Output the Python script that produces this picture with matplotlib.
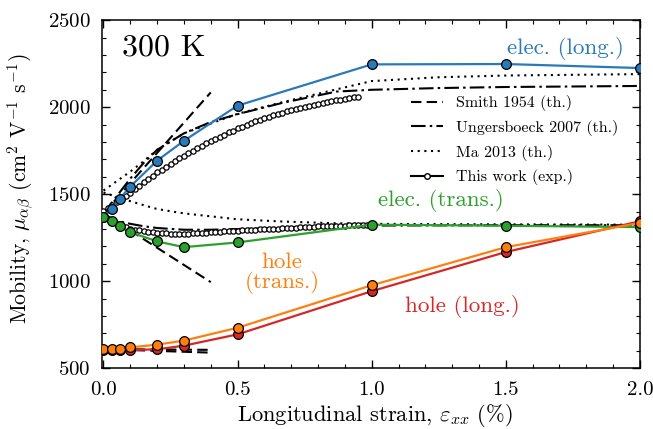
import numpy as np
import matplotlib
matplotlib.use("Agg")
import matplotlib.pyplot as plt
from matplotlib.lines import Line2D

plt.rcParams['font.family'] = 'serif'
plt.rcParams['font.serif'] = ['cmr10']
plt.rcParams['mathtext.fontset'] = 'cm'
plt.rcParams['axes.formatter.use_mathtext'] = True
plt.rcParams['axes.unicode_minus'] = False

# ---- data: this work (DFT-like points) ----
strain = [0, 0.03, 0.06, 0.1, 0.2, 0.3, 0.5, 1.0, 1.5, 2.0]
elec_long = [1370, 1416, 1473, 1544, 1693, 1807, 2009, 2246, 2248, 2225]
elec_trans = [1370, 1345, 1315, 1282, 1229, 1196, 1223, 1325, 1319, 1311]
hole_long = [606, 606, 606, 605, 609, 630, 695, 943, 1168, 1345]
hole_trans = [610, 610, 610, 620, 636, 659, 733, 977, 1196, 1335]

# ---- Smith 1954 (th.) ----
smith_x = [0, 0.4]
smith_elec_long = [1390, 2085]
smith_elec_trans = [1390, 995]
smith_hole_long = [610, 590]
smith_hole_trans = [610, 606]

# ---- Ungersboeck 2007 (th.) ----
ung_x = [0, 0.05, 0.1, 0.15, 0.2, 0.3, 0.4, 0.5, 0.67, 0.87, 1.0, 1.25, 1.5, 2.0]
ung_elec_long = [1390, 1490, 1590, 1680, 1755, 1850, 1915, 1960, 2026, 2090, 2100, 2110, 2116, 2122]
ung_elec_trans = [1370, 1348, 1330, 1316, 1306, 1296, 1296, 1300, 1308, 1316, 1320, 1321, 1322, 1322]

# ---- Ma 2013 (th.) ----
ma_x = [0, 0.1, 0.15, 0.2, 0.3, 0.5, 0.67, 0.87, 1.0, 1.25, 1.5, 2.0]
ma_elec_long = [1521, 1630, 1690, 1755, 1850, 1962, 2030, 2103, 2150, 2172, 2182, 2190]
ma_elec_trans = [1510, 1460, 1437, 1415, 1390, 1356, 1343, 1333, 1330, 1328, 1327, 1325]

# ---- This work (exp.) ----
exp_x_long = [i / 60 for i in range(58)]
exp_elec_long = [1405, 1420, 1437, 1455, 1472, 1490, 1508, 1528, 1548, 1568,
                 1587, 1606, 1625, 1642, 1658, 1675, 1691, 1706, 1722, 1736,
                 1751, 1765, 1778, 1792, 1805, 1818, 1830, 1843, 1855, 1866,
                 1878, 1889, 1899, 1910, 1919, 1929, 1938, 1946, 1954, 1962,
                 1969, 1977, 1984, 1990, 1997, 2003, 2009, 2014, 2020, 2025,
                 2030, 2035, 2039, 2044, 2048, 2052, 2056, 2060]
exp_x_trans = [i / 60 for i in range(61)]
exp_elec_trans = [1368, 1355, 1342, 1330, 1320, 1311, 1303, 1297, 1292, 1287,
                  1284, 1281, 1278, 1277, 1275, 1274, 1273, 1273, 1273, 1274,
                  1275, 1276, 1278, 1279, 1281, 1283, 1284, 1286, 1287, 1289,
                  1290, 1292, 1293, 1295, 1296, 1298, 1299, 1300, 1302, 1303,
                  1304, 1306, 1307, 1308, 1310, 1311, 1312, 1314, 1315, 1316,
                  1316, 1317, 1318, 1319, 1320, 1321, 1321, 1322, 1323, 1323,
                  1324]

c_blue = '#2a7ab9'
c_green = '#2ca02c'
c_red = '#d62728'
c_orange = '#ff7f0e'

fig = plt.figure(figsize=(6.53, 4.29), dpi=100)
ax = fig.add_axes([0.156, 0.1415, 0.824, 0.8115])

lw_k = 1.5
# theory lines
for yy in (smith_elec_long, smith_elec_trans, smith_hole_long, smith_hole_trans):
    ax.plot(smith_x, yy, color='k', lw=lw_k, ls=(0, (5, 2.5)), zorder=2)
for yy in (ung_elec_long, ung_elec_trans):
    ax.plot(ung_x, yy, color='k', lw=lw_k, ls=(0, (7, 2, 1.2, 2)), zorder=2)
for yy in (ma_elec_long, ma_elec_trans):
    ax.plot(ma_x, yy, color='k', lw=lw_k, ls=(0, (1, 2.2)), zorder=2)

# experiment
ax.plot(exp_x_long, exp_elec_long, color='k', lw=1.0, marker='o', ms=3.8,
        mfc='white', mec='k', mew=0.9, zorder=3)
ax.plot(exp_x_trans, exp_elec_trans, color='k', lw=1.0, marker='o', ms=3.8,
        mfc='white', mec='k', mew=0.9, zorder=3)

mk = dict(marker='o', ms=7, mec='k', mew=0.9, lw=1.6)
ax.plot(strain, elec_long, color=c_blue, zorder=4, **mk)
ax.plot(strain, elec_trans, color=c_green, zorder=4, **mk)
ax.plot(strain, hole_long, color=c_red, zorder=4, **mk)
ax.plot(strain, hole_trans, color=c_orange, zorder=5, **mk)

ax.set_xlim(-0.006, 2.0)
ax.set_ylim(500, 2500)
ax.set_xticks([0, 0.5, 1.0, 1.5, 2.0])
ax.set_xticks(np.arange(0, 2.01, 0.1), minor=True)
ax.set_yticks([500, 1000, 1500, 2000, 2500])
ax.set_yticks(np.arange(500, 2501, 100), minor=True)
ax.xaxis.set_major_formatter(matplotlib.ticker.FormatStrFormatter('%.1f'))
ax.tick_params(which='both', direction='in', top=True, right=True, labelsize=15)
ax.tick_params(axis='x', which='major', pad=9)
ax.tick_params(axis='y', which='major', pad=8)
ax.tick_params(which='major', length=6, width=1.0)
ax.tick_params(which='minor', length=3, width=0.8)
for s in ax.spines.values():
    s.set_linewidth(1.1)

ax.set_xlabel(r'Longitudinal strain, $\varepsilon_{xx}$ (%)', fontsize=16.2)
ax.set_ylabel(r'Mobility, $\mu_{\alpha\beta}$ (cm$^2$ V$^{-1}$ s$^{-1}$)', fontsize=15.6)
ax.xaxis.set_label_coords(0.507, -0.097)
ax.yaxis.set_label_coords(-0.121, 0.515)

ax.text(0.037, 0.922, '300 K', transform=ax.transAxes, fontsize=23,
        ha='left', va='center')
ax.text(1.723, 2339, 'elec. (long.)', color=c_blue, fontsize=16.6, ha='center', va='center')
ax.text(1.257, 1464, 'elec. (trans.)', color=c_green, fontsize=16.6, ha='center', va='center')
ax.text(0.665, 1046, 'hole\n(trans.)', color=c_orange, fontsize=16.6, ha='center',
        va='center', linespacing=0.95)
ax.text(1.338, 857, 'hole (long.)', color=c_red, fontsize=16.6, ha='center', va='center')

handles = [
    Line2D([], [], color='k', lw=lw_k, ls=(0, (5, 2.5))),
    Line2D([], [], color='k', lw=lw_k, ls=(0, (7, 2, 1.2, 2))),
    Line2D([], [], color='k', lw=lw_k, ls=(0, (1, 2.2))),
    Line2D([], [], color='k', lw=lw_k, marker='o', ms=4, mfc='white', mec='k', mew=1.0),
]
labels = ['Smith 1954 (th.)', 'Ungersboeck 2007 (th.)', 'Ma 2013 (th.)', 'This work (exp.)']
ax.legend(handles, labels, loc='upper left', bbox_to_anchor=(0.563, 0.803),
          frameon=False, fontsize=11.5, handlelength=2.0, numpoints=1,
          labelspacing=0.55, handletextpad=0.8, borderaxespad=0)

fig.savefig('out.png', dpi=100)
